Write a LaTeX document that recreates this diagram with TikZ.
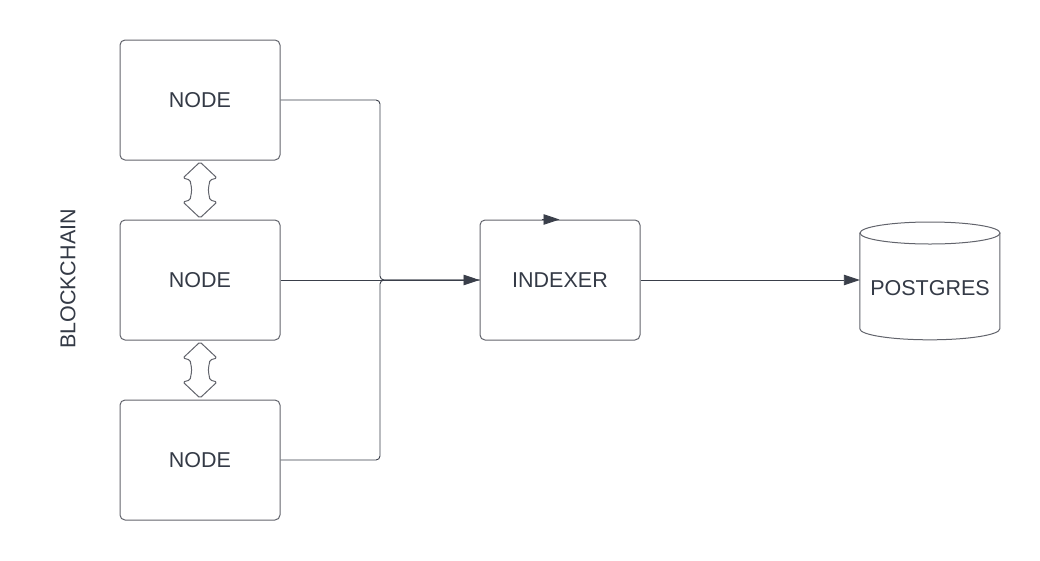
\documentclass[tikz,border=0pt]{standalone}
\usepackage{fontspec}
\setmainfont{Liberation Sans}
\definecolor{boxgray}{RGB}{98, 100, 108}
\definecolor{linedark}{RGB}{58, 63, 74}
\definecolor{textdark}{RGB}{52, 58, 70}
\usetikzlibrary{arrows.meta, calc}

\begin{document}
\begin{tikzpicture}[x=1pt, y=-1pt,
  box/.style={draw=boxgray, line width=1pt, rounded corners=5pt, minimum width=160pt, minimum height=120pt, text=textdark, font=\fontsize{21.5}{25}\selectfont},
  link/.style={draw=linedark, line width=0.9pt},
  tip/.style={-{Triangle[length=16pt, width=10.5pt]}},
  updown/.pic={
    \draw[draw=boxgray, fill=white, line width=1pt, rounded corners=1.5pt]
      (0,-28) -- (-17,-12) -- (-10,-10) .. controls (-8,0) .. (-10,10) -- (-17,12)
      -- (0,28) -- (17,12) -- (10,10) .. controls (8,0) .. (10,-10) -- (17,-12) -- cycle;
  }]
  \useasboundingbox (0,0) rectangle (1040,560);

  % Blockchain nodes
  \node[box] (n1) at (200,100) {NODE};
  \node[box] (n2) at (200,280) {NODE};
  \node[box] (n3) at (200,460) {NODE};
  \node[rotate=90, text=textdark, font=\fontsize{21.5}{25}\selectfont] (chain) at (68,279) {BLOCKCHAIN};

  % Peer links
  \pic at ($(n1.south)!0.5!(n2.north)$) {updown};
  \pic at ($(n2.south)!0.5!(n3.north)$) {updown};

  % Indexer
  \node[box] (idx) at (560,280) {INDEXER};
  \draw[link, tip] ([xshift=62pt]idx.north west) -- ([xshift=80pt]idx.north west);

  % Feeds into indexer
  \coordinate (bus) at (380,280);
  \draw[link, rounded corners=4pt] (n1.east) -| (bus) -- (idx.west);
  \draw[link, rounded corners=4pt] (n3.east) -| (bus) -- (idx.west);
  \draw[link, tip] (n2.east) -- (idx.west);

  % Database
  \node[minimum width=140pt, minimum height=118pt] (pg) at (930,281) {};
  \draw[draw=boxgray, line width=1pt, fill=white]
    (pg.north west) ++(0,11) -- ++(0,96) arc[start angle=180, end angle=0, x radius=70, y radius=11] -- ++(0,-96);
  \draw[draw=boxgray, line width=1pt] (930,233) ellipse[x radius=70, y radius=11];
  \node[text=textdark, font=\fontsize{21.5}{25}\selectfont] (pgtext) at (930,288) {POSTGRES};
  \draw[link, tip] (idx.east) -- (idx.east -| pg.west);
\end{tikzpicture}
\end{document}
